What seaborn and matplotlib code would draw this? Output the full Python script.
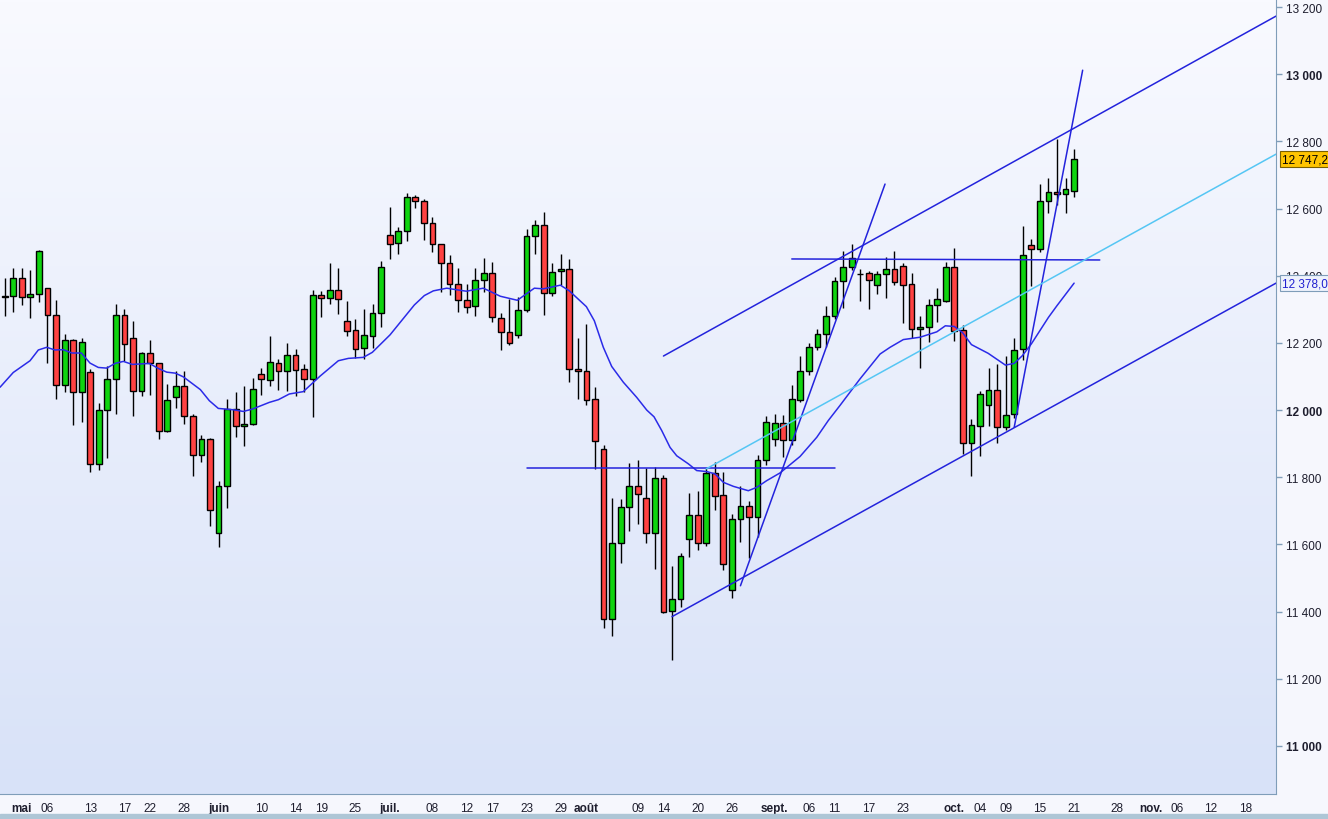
import numpy as np
import matplotlib
matplotlib.use("Agg")
import matplotlib.pyplot as plt
import matplotlib.transforms as mtransforms
from matplotlib.colors import LinearSegmentedColormap
from matplotlib.patches import Rectangle
import seaborn as sns

# daily candles (one per weekday, 29 avr. -> 21 oct.)
opens = [12340, 12339, 12392, 12336, 12345, 12363, 12282, 12074, 12208, 12053,
         12112, 11839, 12000, 12092, 12282, 12214, 12056, 12169, 12139, 11937,
         12038, 12072, 11981, 11865, 11914, 11633, 11773, 12002, 11952, 11958,
         12107, 12089, 12139, 12115, 12163, 12121, 12092, 12342, 12333, 12357,
         12264, 12238, 12184, 12220, 12288, 12520, 12497, 12532, 12633, 12622,
         12556, 12494, 12437, 12374, 12327, 12309, 12386, 12407, 12273, 12232,
         12223, 12297, 12517, 12550, 12348, 12413, 12419, 12121, 12115, 12032,
         11883, 11377, 11603, 11711, 11773, 11737, 11633, 11797, 11401, 11437,
         11615, 11687, 11603, 11812, 11746, 11463, 11675, 11714, 11681, 11850,
         11913, 11961, 11910, 12029, 12115, 12187, 12226, 12279, 12383, 12425,
         12404, 12407, 12372, 12404, 12419, 12428, 12374, 12241, 12247, 12312,
         12324, 12425, 12238, 11901, 11952, 12014, 12059, 11949, 11987, 12181,
         12491, 12480, 12622, 12648, 12642, 12651]
highs = [12392, 12422, 12422, 12417, 12477, 12365, 12328, 12226, 12212, 12215,
         12122, 12021, 12131, 12316, 12301, 12265, 12174, 12209, 12141, 12078,
         12115, 12115, 11988, 11926, 11916, 11788, 12032, 12053, 12072, 12095,
         12126, 12221, 12152, 12200, 12183, 12136, 12357, 12354, 12438, 12423,
         12325, 12270, 12300, 12315, 12444, 12605, 12544, 12645, 12639, 12628,
         12574, 12496, 12461, 12422, 12374, 12422, 12452, 12440, 12288, 12330,
         12336, 12538, 12565, 12589, 12437, 12464, 12449, 12214, 12255, 12068,
         11895, 11737, 11734, 11842, 11851, 11827, 11830, 11806, 11535, 11574,
         11752, 11758, 11827, 11845, 11815, 11690, 11773, 11728, 11865, 11981,
         11988, 11985, 12074, 12160, 12199, 12241, 12309, 12395, 12473, 12494,
         12419, 12413, 12413, 12455, 12473, 12437, 12407, 12279, 12330, 12363,
         12440, 12482, 12252, 11973, 12057, 12124, 12136, 12162, 12214, 12547,
         12508, 12672, 12690, 12806, 12690, 12776]
lows = [12281, 12291, 12314, 12273, 12323, 12140, 12034, 12055, 11956, 11966,
        11815, 11823, 11858, 11989, 12145, 11983, 12043, 12046, 11915, 11934,
        12007, 11959, 11803, 11846, 11654, 11591, 11708, 11921, 11892, 11955,
        12046, 12073, 12061, 12058, 12043, 12053, 11980, 12278, 12317, 12287,
        12221, 12154, 12151, 12186, 12248, 12450, 12466, 12502, 12601, 12505,
        12470, 12351, 12342, 12291, 12288, 12279, 12351, 12261, 12178, 12193,
        12214, 12291, 12464, 12282, 12339, 12371, 12083, 12032, 12014, 11824,
        11350, 11327, 11544, 11639, 11660, 11603, 11526, 11395, 11255, 11413,
        11562, 11583, 11594, 11702, 11523, 11440, 11606, 11559, 11621, 11836,
        11892, 11859, 11895, 12023, 12106, 12178, 12187, 12271, 12303, 12416,
        12324, 12300, 12345, 12333, 12371, 12258, 12214, 12124, 12202, 12261,
        12322, 12205, 11869, 11805, 11862, 11952, 11901, 11940, 11976, 12148,
        12370, 12470, 12586, 12610, 12586, 12633]
closes = [12338, 12392, 12336, 12345, 12473, 12282, 12074, 12208, 12053, 12202,
          11839, 12000, 12092, 12282, 12196, 12056, 12169, 12139, 11937, 12029,
          12072, 11981, 11865, 11914, 11702, 11773, 12002, 11952, 11958, 12062,
          12092, 12142, 12115, 12163, 12118, 12092, 12342, 12333, 12357, 12330,
          12235, 12181, 12223, 12288, 12425, 12494, 12532, 12633, 12622, 12556,
          12494, 12437, 12374, 12327, 12306, 12386, 12407, 12276, 12232, 12199,
          12297, 12517, 12550, 12348, 12410, 12419, 12121, 12115, 12029, 11907,
          11377, 11603, 11711, 11773, 11749, 11633, 11797, 11398, 11437, 11565,
          11687, 11603, 11812, 11743, 11541, 11675, 11714, 11681, 11850, 11964,
          11961, 11910, 12032, 12115, 12187, 12226, 12279, 12383, 12425, 12452,
          12404, 12386, 12404, 12419, 12380, 12372, 12241, 12247, 12312, 12330,
          12425, 12235, 11901, 11955, 12047, 12059, 11949, 11984, 12178, 12461,
          12480, 12622, 12648, 12642, 12657, 12747.2]

# moving average (bar index, value)
ma_pos = [-0.55, 1.0, 2.96, 3.93, 4.91, 5.88, 6.85, 7.84, 8.96, 9.97, 10.94, 11.93,
          12.9, 13.87, 14.92, 16.9, 17.96, 18.94, 19.95, 20.88, 22.87, 23.92, 24.97,
          26.73, 27.89, 28.95, 30.93, 31.99, 33.27, 34.9, 36.9, 39.0, 40.17, 41.92,
          42.97, 45.04, 47.88, 49.05, 50.1, 51.67, 52.9, 53.96, 55.95, 57.93, 59.92,
          61.91, 62.96, 64.95, 66.0, 67.99, 68.92, 69.97, 70.95, 72.31, 73.87, 75.05,
          75.9, 76.8, 77.77, 78.55, 79.91, 80.89, 82.06, 83.03, 84.0, 85.17, 86.92,
          87.9, 89.07, 90.63, 92.97, 94.92, 96.27, 97.64, 99.98, 102.32, 103.49,
          105.04, 107.0, 108.95, 109.95, 111.0, 111.95, 113.0, 114.96, 116.97, 118.0,
          118.95, 120.0, 122.0, 123.0, 125.0]
ma_val = [12068, 12112, 12147, 12179, 12187, 12179, 12180, 12170, 12170, 12140, 12127,
          12125, 12139, 12145, 12136, 12139, 12124, 12113, 12110, 12099, 12061, 12028,
          12005, 12001, 11996, 12003, 12023, 12031, 12048, 12055, 12102, 12147, 12154,
          12157, 12172, 12224, 12313, 12341, 12355, 12363, 12358, 12354, 12363, 12339,
          12327, 12363, 12361, 12372, 12355, 12308, 12266, 12187, 12130, 12083, 12038,
          12000, 11980, 11939, 11889, 11864, 11840, 11820, 11817, 11810, 11785, 11773,
          11760, 11770, 11790, 11813, 11862, 11919, 11969, 12014, 12093, 12167, 12187,
          12210, 12217, 12233, 12251, 12249, 12231, 12195, 12169, 12134, 12139, 12162,
          12197, 12276, 12311, 12378]

# hand drawn lines: (x0, x1), (y0, y1)
x_end = 148.6
chan_up = ([77, x_end], [12161, 13173])
chan_low = ([78, x_end], [11385, 12378])
chan_mid = ([82, x_end], [11825, 12762])
flat_1 = ([61, 97], [11827, 11827])
flat_2 = ([92, 128], [12450, 12447])
steep_1 = ([86, 102.9], [11477, 12673])
steep_2 = ([118, 126], [11949, 13012])

tick_pos = [2, 5, 10, 14, 17, 21, 25, 30, 34, 37, 41, 45, 50, 54, 57, 61, 65, 68,
            74, 77, 81, 85, 90, 94, 97, 101, 105, 111, 114, 117, 121, 125, 130, 134,
            137, 141, 145]
tick_txt = ["mai", "06", "13", "17", "22", "28", "juin", "10", "14", "19", "25",
            "juil.", "08", "12", "17", "23", "29", "août", "09", "14", "20", "26",
            "sept.", "06", "11", "17", "23", "oct.", "04", "09", "15", "21", "28",
            "nov.", "06", "12", "18"]
months = ["mai", "juin", "juil.", "août", "sept.", "oct.", "nov."]

price_ticks = list(range(11000, 13201, 200))

sns.set_style("white")
plt.rcParams["font.family"] = ["Liberation Sans", "DejaVu Sans"]

W, H = 1328, 820
fig = plt.figure(figsize=(W / 100, H / 100), dpi=100, facecolor="#f6f7fd")
ax = fig.add_axes([0, 1 - 795 / H, 1276 / W, 795 / H])
fig.patches.append(Rectangle((0, 0), 1, 5 / H, transform=fig.transFigure,
                             color="#aec6d6", zorder=0))

# background gradient
bg = LinearSegmentedColormap.from_list("bg", ["#f9faff", "#d8e2f8"])
ax.imshow(np.linspace(0, 1, 256).reshape(-1, 1), cmap=bg, extent=[0, 1, 0, 1],
          transform=ax.transAxes, aspect="auto", zorder=0)

x = np.arange(len(opens))
o = np.array(opens)
c = np.array(closes)
cols = np.where(c >= o, "#0fd40f", "#ff4242")
ax.vlines(x, lows, highs, color="black", lw=1, zorder=2)
ax.bar(x, np.abs(c - o), bottom=np.minimum(o, c), width=0.68, color=cols,
       edgecolor="black", linewidth=1, zorder=3)

sns.lineplot(x=ma_pos, y=ma_val, ax=ax, color="#2b2be8", lw=1.1, zorder=4)

for ln in [chan_up, chan_low, flat_1, flat_2, steep_1, steep_2]:
    ax.plot(ln[0], ln[1], color="#2323dc", lw=1.1, zorder=5)
ax.plot(chan_mid[0], chan_mid[1], color="#55c6f4", lw=1.1, zorder=5)

ax.set_xlim(-0.55, x_end)
ax.set_ylim(10857, 13224)

ax.yaxis.tick_right()
ax.set_yticks(price_ticks)
ax.set_yticklabels([f"{v:,}".replace(",", " ") for v in price_ticks])
for lab, v in zip(ax.get_yticklabels(), price_ticks):
    if v % 1000 == 0:
        lab.set_fontweight("bold")
ax.set_xticks(tick_pos)
ax.set_xticklabels(tick_txt)
for lab in ax.get_xticklabels():
    if lab.get_text() in months:
        lab.set_fontweight("bold")

ax.tick_params(axis="both", length=4, width=1, color="#7f9db9", labelsize=8.5,
               labelcolor="#1e1e2e", pad=2)
ax.tick_params(axis="y", pad=3)
for s in ["top", "left"]:
    ax.spines[s].set_visible(False)
for s in ["right", "bottom"]:
    ax.spines[s].set_color("#7f9db9")
ax.set_xlabel("")
ax.set_ylabel("")
ax.grid(False)

# price tags on the axis
tr = mtransforms.blended_transform_factory(ax.transAxes, ax.transData)
ax.text(1.0045, closes[-1], "12 747,2", transform=tr, ha="left", va="center",
        fontsize=8.5, color="black", clip_on=False, zorder=10,
        bbox=dict(boxstyle="square,pad=0.15", fc="#ffc400", ec="#7a6000", lw=0.8))
ax.text(1.0045, chan_low[1][1], "12 378,0", transform=tr, ha="left", va="center",
        fontsize=8.5, color="#2020d0", clip_on=False, zorder=10,
        bbox=dict(boxstyle="square,pad=0.15", fc="#eef2fc", ec="#7f9db9", lw=0.8))

fig.savefig("out.png", dpi=100, facecolor=fig.get_facecolor())
